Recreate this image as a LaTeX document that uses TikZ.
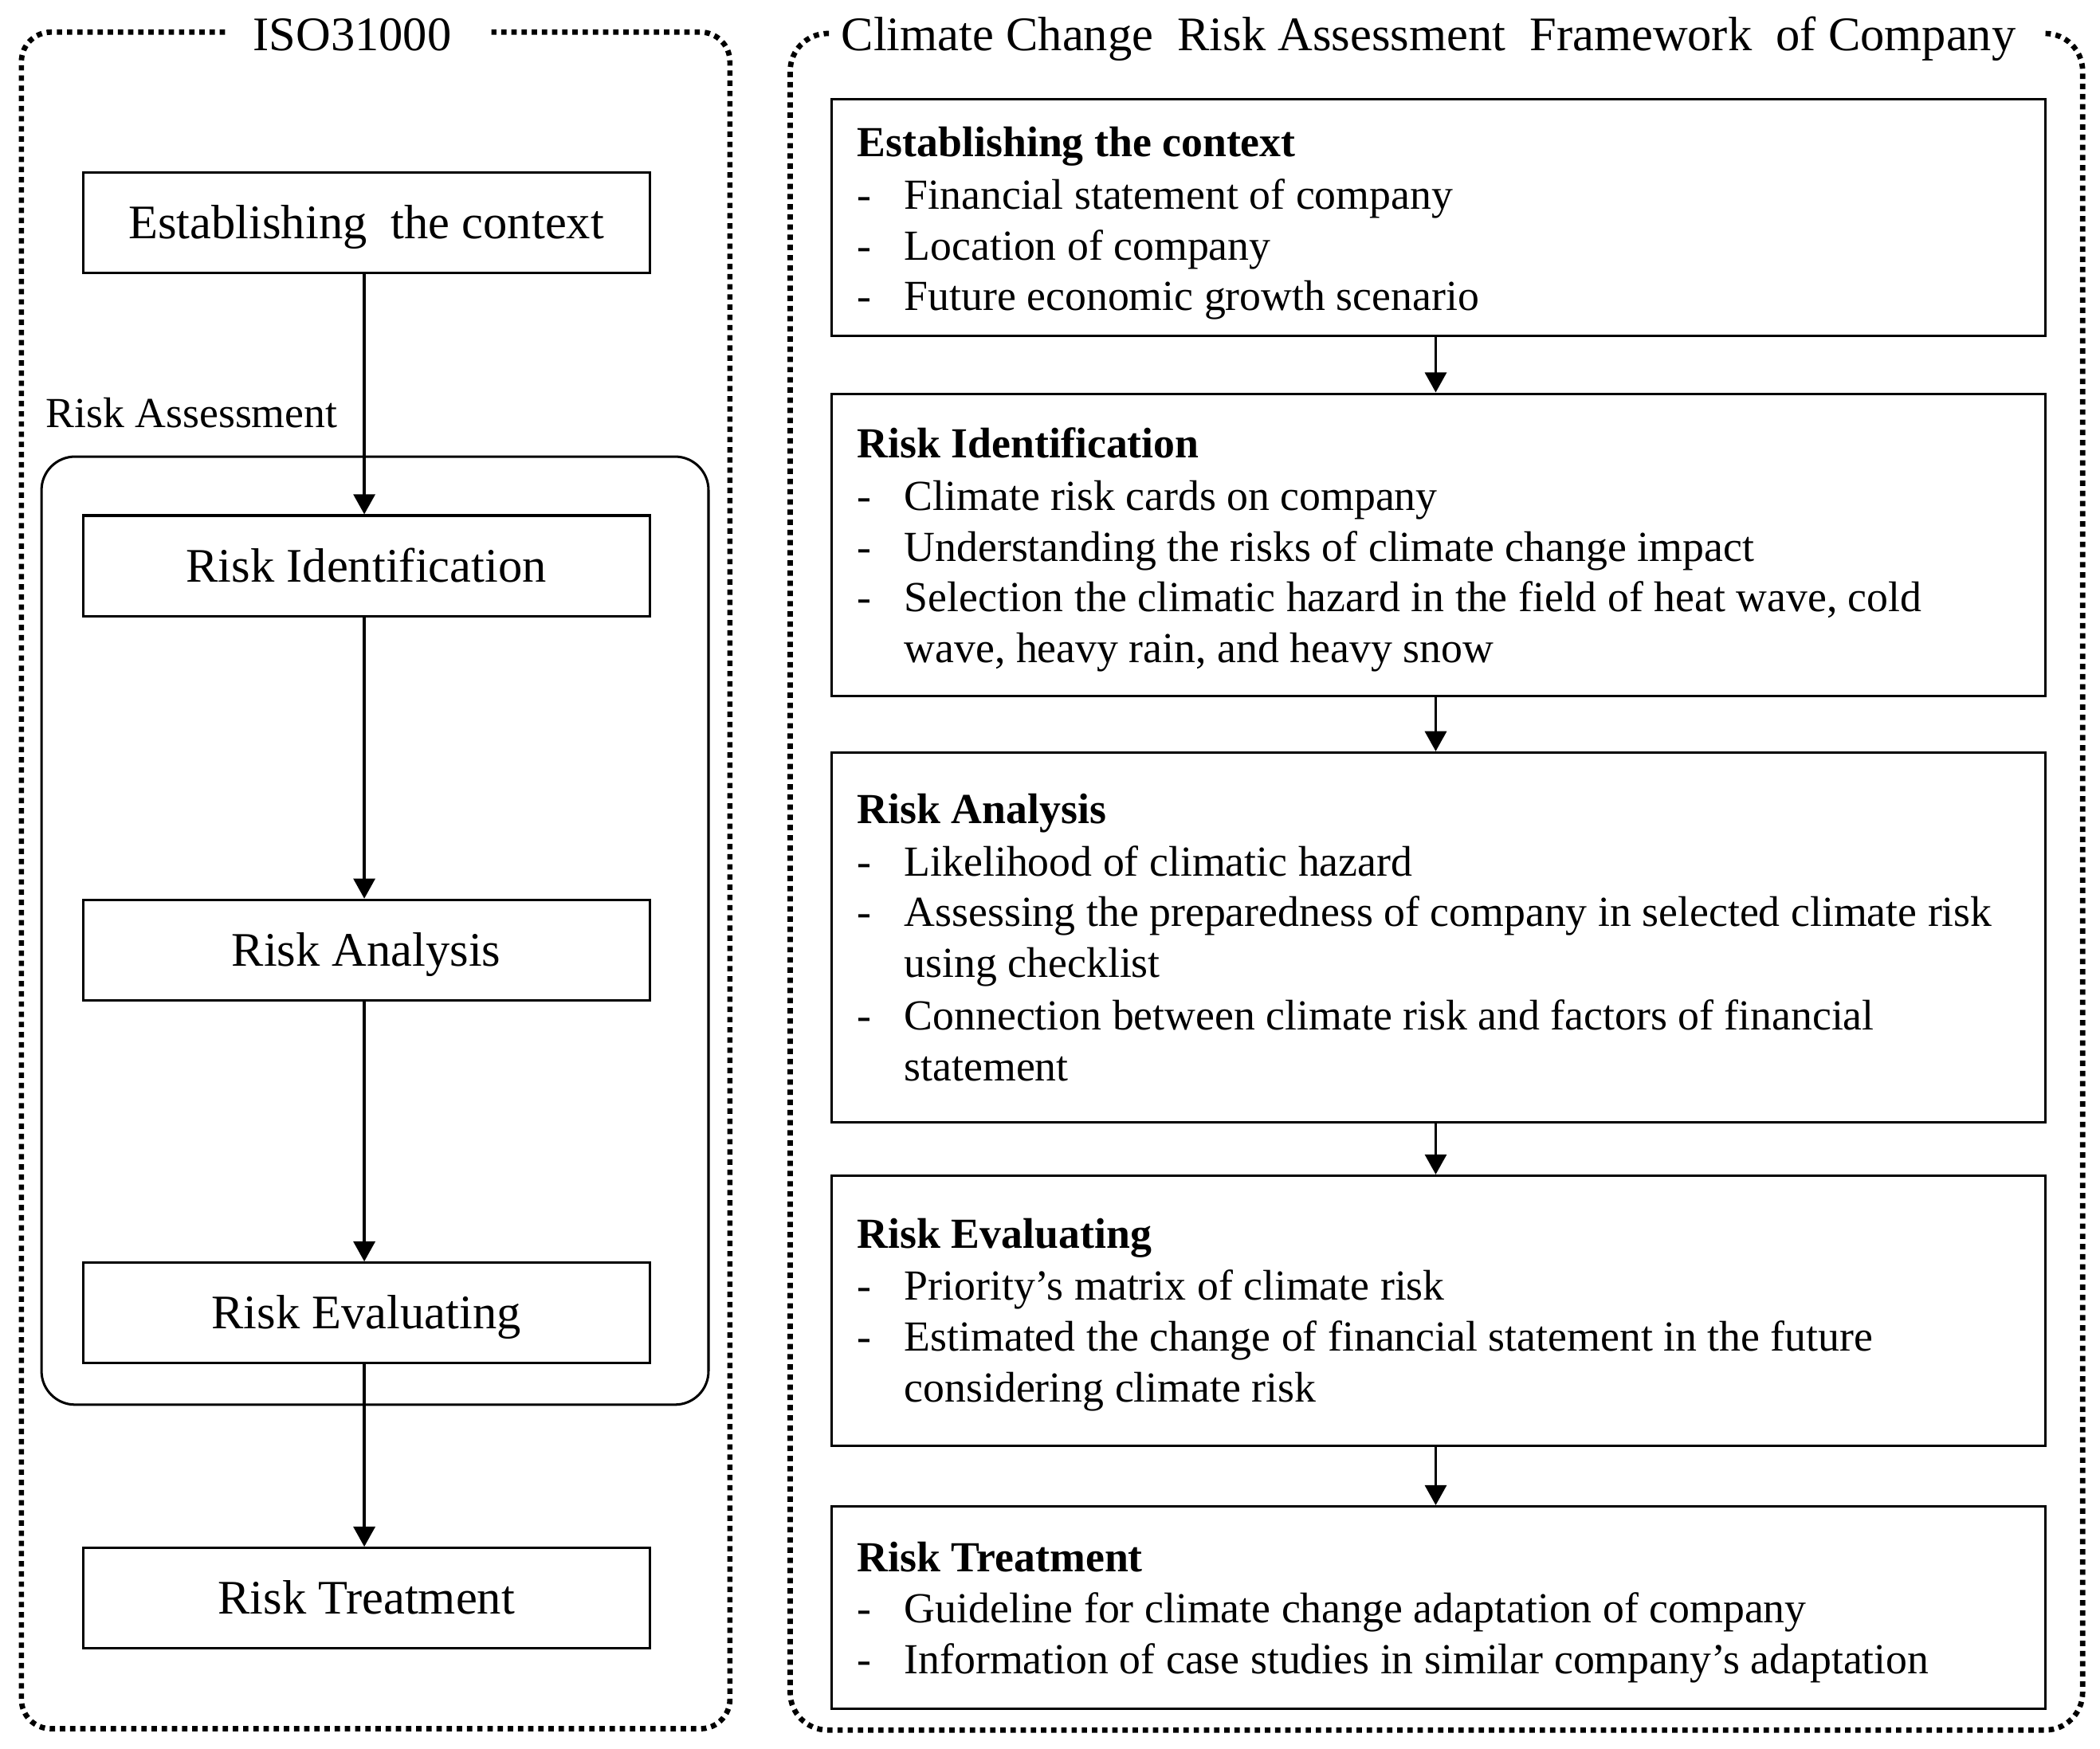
\documentclass[tikz,border=0pt]{standalone}
\usepackage{fontspec}
\setmainfont{Liberation Serif}
\usetikzlibrary{arrows.meta}
\newcommand\itm{\makebox[35pt][l]{-}}
\begin{document}
\begin{tikzpicture}[x=1pt,y=-1pt,
  dotline/.style={line width=4pt, dash pattern=on 4pt off 3.6pt},
  lbox/.style={draw, line width=1.8pt, minimum width=423pt, minimum height=75pt, inner sep=0pt,
    text height=24pt, text depth=0pt, font=\fontsize{36}{40}\selectfont},
  rbox/.style={draw, line width=1.8pt, minimum width=906pt, inner sep=0pt},
  txt/.style={inner sep=0pt, anchor=base west, font=\fontsize{32}{38}\selectfont},
  arr/.style={line width=2.3pt, -{Triangle[width=16pt,length=15pt]}}]
\useasboundingbox (0,0) rectangle (1568,1306);
% outer dotted frames
\draw[dotline, rounded corners=22pt] (168,24) -- (16,24) -- (16,1291) -- (545,1291) -- (545,24) -- (367,24);
\draw[dotline, rounded corners=28pt] (619,25) -- (590,25) -- (590,1292) -- (1555,1292) -- (1555,25) -- (1526,25);
\node[inner sep=0pt, anchor=base, font=\fontsize{36}{40}\selectfont] (t1) at (263,37.7) {ISO31000};
\node[inner sep=0pt, anchor=base west, font=\fontsize{36}{40}\selectfont] (t2) at (628,37.7) {Climate Change\hspace{9pt} Risk Assessment\hspace{9pt} Framework\hspace{9pt} of Company};
% risk assessment group
\node[draw, line width=1.8pt, rounded corners=25pt, minimum width=498pt, minimum height=708pt] (ra) at (280,695) {};
\node[inner sep=0pt, anchor=base west, font=\fontsize{32}{38}\selectfont] (ral) at (34,319) {Risk Assessment};
% left column
\node[lbox] (l1) at (273.5,166.5) {Establishing\hspace{9pt} the context};
\node[lbox] (l2) at (273.5,422.5) {Risk Identification};
\node[lbox] (l3) at (273.5,709.5) {Risk Analysis};
\node[lbox] (l4) at (273.5,980.5) {Risk Evaluating};
\node[lbox] (l5) at (273.5,1193.5) {Risk Treatment};
\draw[arr] ([xshift=-1.5pt]l1.south) -- ([xshift=-1.5pt]l2.north);
\draw[arr] ([xshift=-1.5pt]l2.south) -- ([xshift=-1.5pt]l3.north);
\draw[arr] ([xshift=-1.5pt]l3.south) -- ([xshift=-1.5pt]l4.north);
\draw[arr] ([xshift=-1.5pt]l4.south) -- ([xshift=-1.5pt]l5.north);
% right column boxes
\node[rbox, minimum height=177pt] (r1) at (1074,162.5) {};
\node[rbox, minimum height=226pt] (r2) at (1074,407) {};
\node[rbox, minimum height=276pt] (r3) at (1074,700) {};
\node[rbox, minimum height=202pt] (r4) at (1074,979) {};
\node[rbox, minimum height=151pt] (r5) at (1074,1200.5) {};
\draw[arr] ([xshift=-2pt]r1.south) -- ([xshift=-2pt]r2.north);
\draw[arr] ([xshift=-2pt]r2.south) -- ([xshift=-2pt]r3.north);
\draw[arr] ([xshift=-2pt]r3.south) -- ([xshift=-2pt]r4.north);
\draw[arr] ([xshift=-2pt]r4.south) -- ([xshift=-2pt]r5.north);
% right texts
\node[txt] (r1t) at (640,117) {\textbf{Establishing the context}};
\node[txt] (r1a) at (640,156) {\itm Financial statement of company};
\node[txt] (r1b) at (640,194) {\itm Location of company};
\node[txt] (r1c) at (640,232) {\itm Future economic growth scenario};
\node[txt] (r2t) at (640,342) {\textbf{Risk Identification}};
\node[txt] (r2a) at (640,381) {\itm Climate risk cards on company};
\node[txt] (r2b) at (640,419) {\itm Understanding the risks of climate change impact};
\node[txt] (r2c) at (640,457) {\itm Selection the climatic hazard in the field of heat wave, cold};
\node[txt] (r2d) at (675,495) {wave, heavy rain, and heavy snow};
\node[txt] (r3t) at (640,615) {\textbf{Risk Analysis}};
\node[txt] (r3a) at (640,654) {\itm Likelihood of climatic hazard};
\node[txt] (r3b) at (640,692) {\itm Assessing the preparedness of company in selected climate risk};
\node[txt] (r3c) at (675,730) {using checklist};
\node[txt] (r3d) at (640,769) {\itm Connection between climate risk and factors of financial};
\node[txt] (r3e) at (675,807) {statement};
\node[txt] (r4t) at (640,932) {\textbf{Risk Evaluating}};
\node[txt] (r4a) at (640,971) {\itm Priority’s matrix of climate risk};
\node[txt] (r4b) at (640,1009) {\itm Estimated the change of financial statement in the future};
\node[txt] (r4c) at (675,1047) {considering climate risk};
\node[txt] (r5t) at (640,1174) {\textbf{Risk Treatment}};
\node[txt] (r5a) at (640,1212) {\itm Guideline for climate change adaptation of company};
\node[txt] (r5b) at (640,1250) {\itm Information of case studies in similar company’s adaptation};
\end{tikzpicture}
\end{document}
